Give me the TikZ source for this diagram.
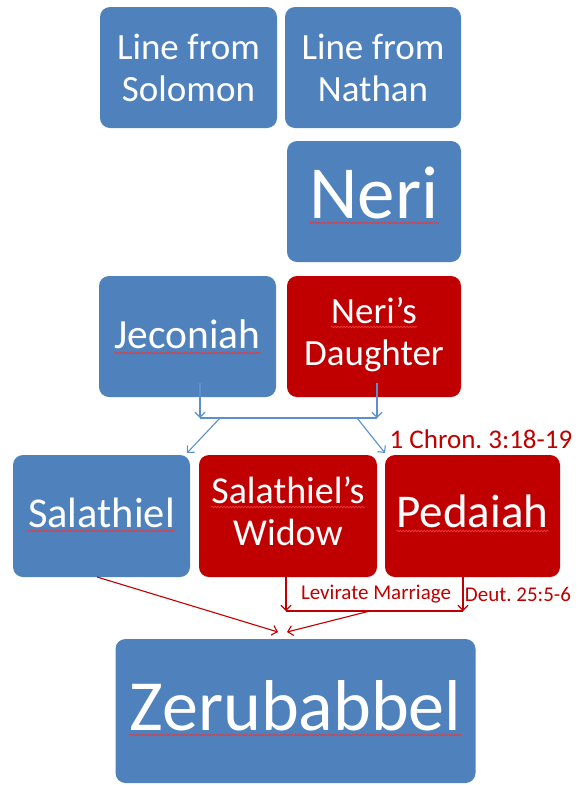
\documentclass[tikz,border=0pt]{standalone}
\usepackage{fontspec}
\setmainfont{Carlito}
\usetikzlibrary{arrows.meta,decorations.pathmorphing}
\definecolor{boxblue}{HTML}{4F81BD}
\definecolor{boxred}{HTML}{C00000}
\definecolor{lineblue}{HTML}{5B8FD0}
\definecolor{wavered}{HTML}{E83A3A}
\frenchspacing
\tikzset{
  famblock/.style={rounded corners=10pt, text=white, align=center, inner sep=0pt},
  blueblock/.style={famblock, fill=boxblue},
  redblock/.style={famblock, fill=boxred},
  wordtext/.style={text=white, inner sep=0pt, anchor=base},
  squig/.style={draw=wavered, line width=0.7pt, decorate,
    decoration={snake, amplitude=0.9pt, segment length=3pt}},
  bluelink/.style={draw=lineblue, line width=1.1pt},
  redlink/.style={draw=boxred, line width=1.1pt},
  tip/.style={-{Straight Barb[length=5pt,width=10pt]}},
  reflabel/.style={text=boxred, inner sep=0pt}
}
\begin{document}
\begin{tikzpicture}[x=1pt,y=1pt]
\useasboundingbox (0,0) rectangle (579,-785);
% boxes
\node[blueblock, minimum width=177pt, minimum height=121pt, font=\fontsize{37}{42}\selectfont] (sol) at (188.5,-67.5) {Line from\\Solomon};
\node[blueblock, minimum width=176pt, minimum height=121pt, font=\fontsize{37}{42}\selectfont] (nat) at (373,-67.5) {Line from\\Nathan};
\node[blueblock, minimum width=174pt, minimum height=121pt] (neri) at (374,-201.5) {};
\node[blueblock, minimum width=177pt, minimum height=121pt] (jec) at (187.5,-336.5) {};
\node[redblock, minimum width=174pt, minimum height=121pt] (nd) at (374,-336.5) {};
\node[blueblock, minimum width=177pt, minimum height=122pt] (sal) at (101.5,-516) {};
\node[redblock, minimum width=178pt, minimum height=122pt] (wid) at (288,-516) {};
\node[redblock, minimum width=175pt, minimum height=122pt] (ped) at (472.5,-516) {};
\node[blueblock, minimum width=360pt, minimum height=144pt] (zer) at (295.5,-711) {};
% words
\node[wordtext, font=\fontsize{75}{80}\selectfont] (neriT) at (374,-218) {Neri};
\node[wordtext, font=\fontsize{41.5}{46}\selectfont] (jecT) at (187.5,-348) {Jeconiah};
\node[wordtext, font=\fontsize{37}{41}\selectfont] (ndT1) at (374,-323) {Neri’s};
\node[wordtext, font=\fontsize{37}{41}\selectfont] (ndT2) at (374,-365) {Daughter};
\node[wordtext, font=\fontsize{42.5}{46}\selectfont] (salT) at (101.5,-527) {Salathiel};
\node[wordtext, font=\fontsize{38}{42}\selectfont] (widT1) at (288,-503) {Salathiel’s};
\node[wordtext, font=\fontsize{38}{42}\selectfont] (widT2) at (288,-545) {Widow};
\node[wordtext, font=\fontsize{47}{52}\selectfont] (pedT) at (472.5,-527) {Pedaiah};
\node[wordtext, font=\fontsize{72}{80}\selectfont] (zerT) at (295.5,-730) {Zerubabbel};
% spelling squiggles
\foreach \w/\d in {neriT/5, jecT/5, ndT1/4, salT/4, widT1/4, pedT/4, zerT/5}{
  \draw[squig] ([yshift=-\d pt]\w.base west) -- ([yshift=-\d pt]\w.base east);
}
% labels
\node[reflabel, font=\fontsize{27}{30}\selectfont] (chron) at (481,-439) {1 Chron. 3:18-19};
\node[reflabel, font=\fontsize{21}{24}\selectfont] (lev) at (376,-594) {Levirate Marriage};
\node[reflabel, font=\fontsize{21}{24}\selectfont] (deut) at (518,-594) {Deut. 25:5-6};
% blue junction
\coordinate (jA) at (200,-383);
\coordinate (nA) at (377,-383);
\coordinate (jB) at (200,-418);
\coordinate (nB) at (377,-418);
\coordinate (bL) at (220,-418);
\coordinate (bR) at (357,-418);
\draw[bluelink, tip] (jA) -- (jB);
\draw[bluelink, tip] (nA) -- (nB);
\draw[bluelink] (jB) -- (nB);
\draw[bluelink, tip] (bL) -- (187,-453) coordinate (salIn);
\draw[bluelink, tip] (bR) -- (385,-453) coordinate (pedIn);
% red junction
\coordinate (wB) at (286,-611);
\coordinate (pB) at (463,-611);
\coordinate (rM) at (370,-611);
\draw[redlink, tip] (wid.south -| wB) -- (wB);
\draw[redlink, tip] (ped.south -| pB) -- (pB);
\draw[redlink] (wB) -- (pB);
\draw[redlink, tip] (rM) -- (287,-632) coordinate (zIn1);
\draw[redlink, tip] (97,-577) coordinate (salOut) -- (278,-632) coordinate (zIn2);
\end{tikzpicture}
\end{document}
